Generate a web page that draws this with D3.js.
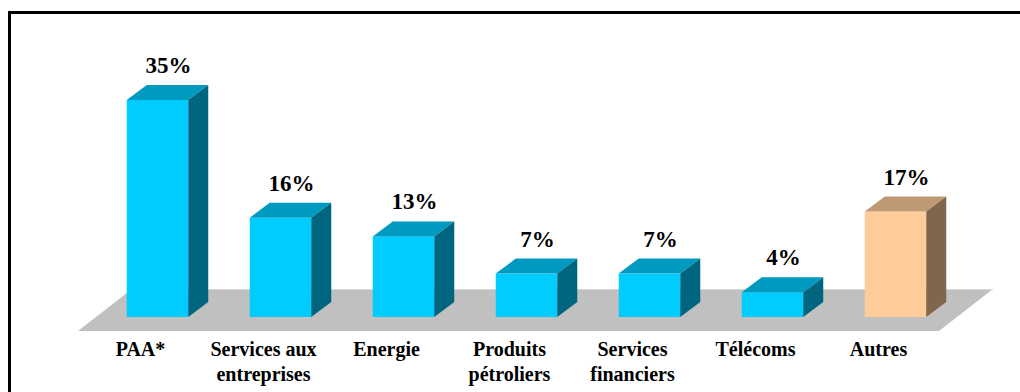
<!DOCTYPE html>
<html>
<head>
<meta charset="utf-8">
<script src="https://cdn.jsdelivr.net/npm/d3@7"></script>
<style>
  html, body { margin: 0; padding: 0; background: #fff; }
  svg { display: block; }
  text { font-family: "Liberation Serif", "Times New Roman", serif; font-weight: bold; fill: #000; }
</style>
</head>
<body>
<svg id="chart" width="1020" height="392"></svg>
<script>
// Sector shares (%)
const categories = ["PAA*", "Services aux\nentreprises", "Energie", "Produits\npétroliers", "Services\nfinanciers", "Télécoms", "Autres"];
const values = [35, 16, 13, 7, 7, 4, 17];
const valueLabels = ["35%", "16%", "13%", "7%", "7%", "4%", "17%"];
const groups = ["main", "main", "main", "main", "main", "main", "other"];

// Face colours per group: front, top, side
const palette = {
  main:  { front: "#00CCFF", top: "#0099BF", side: "#006680" },
  other: { front: "#FFCC99", top: "#BF9973", side: "#80664D" }
};

const svg = d3.select("#chart");

// Frame (left and top edges)
svg.append("path")
  .attr("d", "M9.5,392V12.5H1020")
  .attr("fill", "none")
  .attr("stroke", "#000")
  .attr("stroke-width", 3);

const x = d3.scaleBand()
  .domain(categories)
  .range([96, 957])
  .paddingInner(0.5)
  .paddingOuter(0.25);

const y = d3.scaleLinear().domain([0, 40]).range([317, 69]);

// 3D depth of the bars
const dx = 20, dy = -15;
const base = y(0);

// Floor plane, extending in front of and behind the bars
const [r0, r1] = x.range();
const fFront = { dx: -18, dy: 14 };
const fBack = { dx: 36, dy: -28 };
const floor = [
  [r0 + fFront.dx, base + fFront.dy],
  [r0 + fBack.dx, base + fBack.dy],
  [r1 + fBack.dx, base + fBack.dy],
  [r1 + fFront.dx, base + fFront.dy]
];
svg.append("polygon")
  .attr("points", floor.map(p => p.join(",")).join(" "))
  .attr("fill", "#C0C0C0");
svg.append("line")
  .attr("x1", floor[1][0]).attr("y1", floor[1][1] + 0.5)
  .attr("x2", floor[2][0]).attr("y2", floor[2][1] + 0.5)
  .attr("stroke", "#D8D8D8").attr("stroke-width", 1);

const data = categories.map((c, i) => ({ c, v: values[i], label: valueLabels[i], g: groups[i] }));

const bars = svg.append("g").selectAll("g").data(data).join("g");

bars.each(function (d) {
  const g = d3.select(this);
  const x0 = x(d.c), x1 = x0 + x.bandwidth();
  const yt = y(d.v);
  const col = palette[d.g];
  const pts = a => a.map(p => p.join(",")).join(" ");
  // front face
  g.append("rect")
    .attr("x", x0).attr("y", yt)
    .attr("width", x1 - x0).attr("height", base - yt)
    .attr("fill", col.front);
  // top face
  g.append("polygon")
    .attr("points", pts([[x0, yt], [x0 + dx, yt + dy], [x1 + dx, yt + dy], [x1, yt]]))
    .attr("fill", col.top);
  // side face
  g.append("polygon")
    .attr("points", pts([[x1, yt], [x1 + dx, yt + dy], [x1 + dx, base + dy], [x1, base]]))
    .attr("fill", col.side);
  // value label
  g.append("text")
    .attr("x", (x0 + x1) / 2 + 11)
    .attr("y", yt + dy - 12)
    .attr("text-anchor", "middle")
    .attr("font-size", 23)
    .text(d.label);
});

// Category labels along the front edge of the floor
const cats = svg.append("g").selectAll("text").data(categories).join("text")
  .attr("x", d => x(d) + x.bandwidth() / 2 - 17)
  .attr("y", 356)
  .attr("text-anchor", "middle")
  .attr("font-size", 20);
cats.each(function (d) {
  const t = d3.select(this);
  d.split("\n").forEach((line, i) => {
    t.append("tspan")
      .attr("x", t.attr("x"))
      .attr("dy", i === 0 ? 0 : 25)
      .text(line);
  });
});
</script>
</body>
</html>
